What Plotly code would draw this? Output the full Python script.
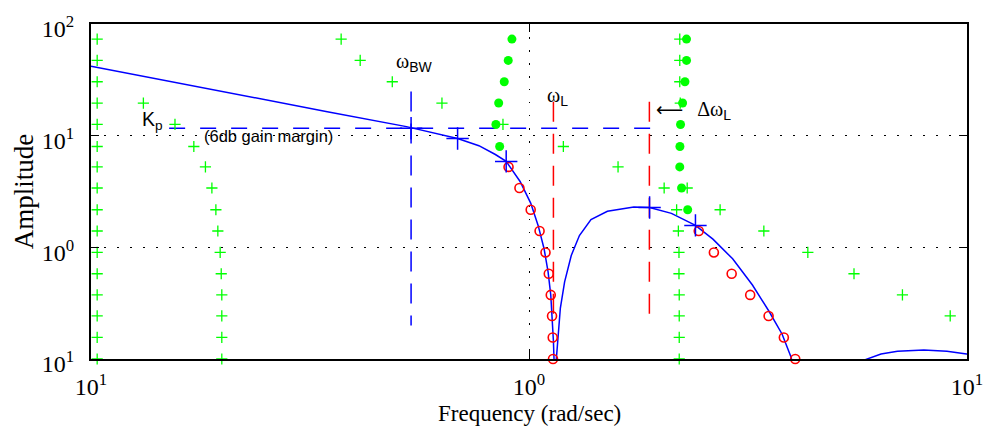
import plotly.graph_objects as go

# ---------------- data ----------------
# blue magnitude curve (rad/sec, amplitude)
curve_w = [0.1, 0.2286, 0.3463, 0.525, 0.5925, 0.687, 0.7684, 0.838, 0.887, 0.9543,
           1.0089, 1.0495, 1.0828, 1.1055, 1.1212, 1.1310, 1.1369, 1.1405, 1.1478,
           1.1547, 1.1645, 1.1792, 1.2059, 1.2488, 1.3035, 1.3851, 1.510, 1.735,
           1.885, 2.114, 2.399, 2.630, 2.917, 3.237, 3.531, 3.784, 3.966, 4.048]
curve_amp = [41.8, 22.3, 16.4, 12.05, 10.8, 9.44, 8.13, 6.78, 5.88, 3.89,
             2.49, 1.563, 0.966, 0.602, 0.3754, 0.2334, 0.1455, 0.1004, 0.03,
             0.1004, 0.1678, 0.286, 0.4914, 0.845, 1.276, 1.776, 2.105, 2.297,
             2.274, 2.014, 1.572, 1.183, 0.789, 0.46, 0.2676, 0.1667, 0.1037, 0.07]
hump_w = [5.59, 5.835, 6.363, 6.94, 7.97, 9.0, 9.98, 10.5]
hump_amp = [0.08, 0.098, 0.111, 0.1171, 0.1205, 0.1171, 0.111, 0.108]

# large blue "+" markers on the curve
bx_w = [0.538, 0.687, 0.887, 1.885, 2.399]
bx_amp = [11.64, 9.44, 5.88, 2.274, 1.572]

# red open circles
circ_a_w = [0.898, 0.951, 1.0089, 1.0572, 1.0906, 1.1096, 1.1212, 1.1287, 1.1328, 1.1346]
circ_a_amp = [5.25, 3.4, 2.17, 1.4, 0.9, 0.58, 0.375, 0.243, 0.156, 0.1]
circ_b_w = [2.441, 2.643, 2.902, 3.199, 3.524, 3.818, 4.054]
circ_b_amp = [1.4, 0.9, 0.58, 0.375, 0.243, 0.156, 0.1]

# green "+" markers
plus_a_w = [0.1033, 0.1033, 0.1033, 0.1033, 0.1033, 0.1033, 0.1033, 0.1033,
            0.1033, 0.1033, 0.1033, 0.1033, 0.1033, 0.1033, 0.1033, 0.1033]
plus_a_amp = [73.3, 47.2, 30.4, 19.6, 12.6, 8.0, 5.25, 3.4, 2.17, 1.4, 0.9, 0.58,
              0.375, 0.243, 0.156, 0.1]
plus_b_w = [0.1317, 0.1555, 0.1717, 0.1825, 0.1888, 0.1928, 0.1948, 0.1972, 0.1983,
            0.1989, 0.1989, 0.1989, 0.1989]
plus_b_amp = [19.6, 12.6, 8.0, 5.25, 3.4, 2.17, 1.4, 0.9, 0.58, 0.375, 0.243, 0.156, 0.1]
plus_c_w = [0.3725, 0.4117, 0.4874, 0.6328, 0.8721, 1.198, 1.597, 2.035, 2.731, 3.437,
            4.331, 5.521, 7.122, 9.155]
plus_c_amp = [73.3, 47.2, 30.4, 19.6, 12.6, 8.0, 5.25, 3.4, 2.17, 1.4, 0.9, 0.58,
              0.375, 0.243]
plus_d_w = [2.209, 2.209, 2.209, 2.215, 2.297, 2.173, 2.193, 2.200, 2.200, 2.203,
            2.203, 2.203, 2.203]
plus_d_amp = [73.3, 47.2, 30.4, 19.6, 3.4, 2.17, 1.4, 0.9, 0.58, 0.375, 0.243, 0.156, 0.1]

# green filled dots
dot_a_w = [0.9141, 0.8966, 0.878, 0.8526, 0.8403, 0.857]
dot_a_amp = [73.3, 47.2, 30.4, 19.6, 12.6, 8.0]
dot_b_w = [2.289, 2.289, 2.270, 2.242, 2.218, 2.211, 2.209, 2.23, 2.303]
dot_b_amp = [73.3, 47.2, 30.4, 19.6, 12.6, 8.0, 5.25, 3.4, 2.17]

# reference lines
kp_amp = 11.64
kp_w = [0.1508, 1.94]
w_bw = 0.538
bw_amp = [24.8, 0.2]
w_l = 1.137
w_l2 = 1.883
red_amp = [20.1, 0.2]

# axis ticks
x_tickvals = [0.1, 1, 10]
x_ticktext = ["10<sup>1</sup>", "10<sup>0</sup>", "10<sup>1</sup>"]
y_tickvals = [0.1, 1, 10, 100]
y_ticktext = ["10<sup>1</sup>", "10<sup>0</sup>", "10<sup>1</sup>", "10<sup>2</sup>"]

title_text = "Learning Rate and Filter Bandwidth Chosen by the Magnitude"

# ---------------- figure ----------------
GREEN = "#00ff00"
BLUE = "#0000ff"
RED = "#ff0000"
SERIF = "Liberation Serif, Times New Roman, serif"
SANS = "Liberation Sans, Arial, sans-serif"

fig = go.Figure()

HDASH = "16px,15px"
VDASH = "20px,12px"

# dashed reference lines
fig.add_trace(go.Scatter(x=kp_w, y=[kp_amp, kp_amp], mode="lines",
                         line=dict(color=BLUE, width=1.5, dash=HDASH)))
fig.add_trace(go.Scatter(x=[w_bw, w_bw], y=bw_amp, mode="lines",
                         line=dict(color=BLUE, width=1.5, dash=VDASH)))
fig.add_trace(go.Scatter(x=[w_l, w_l], y=red_amp, mode="lines",
                         line=dict(color=RED, width=1.5, dash=VDASH)))
fig.add_trace(go.Scatter(x=[w_l2, w_l2], y=red_amp, mode="lines",
                         line=dict(color=RED, width=1.5, dash=VDASH)))

# blue curve
fig.add_trace(go.Scatter(x=curve_w, y=curve_amp, mode="lines",
                         line=dict(color=BLUE, width=1.5)))
fig.add_trace(go.Scatter(x=hump_w, y=hump_amp, mode="lines",
                         line=dict(color=BLUE, width=1.5)))

# markers
def plus(xs, ys):
    return go.Scatter(x=xs, y=ys, mode="markers", cliponaxis=False,
                      marker=dict(symbol="cross-thin", size=8, color=GREEN,
                                  line=dict(color=GREEN, width=1.3)))

for xs, ys in [(plus_a_w, plus_a_amp), (plus_b_w, plus_b_amp),
               (plus_c_w, plus_c_amp), (plus_d_w, plus_d_amp)]:
    fig.add_trace(plus(xs, ys))

for xs, ys in [(dot_a_w, dot_a_amp), (dot_b_w, dot_b_amp)]:
    fig.add_trace(go.Scatter(x=xs, y=ys, mode="markers", cliponaxis=False,
                             marker=dict(symbol="circle", size=9, color=GREEN)))

for xs, ys in [(circ_a_w, circ_a_amp), (circ_b_w, circ_b_amp)]:
    fig.add_trace(go.Scatter(x=xs, y=ys, mode="markers", cliponaxis=False,
                             marker=dict(symbol="circle-open", size=9, color=RED,
                                         line=dict(color=RED, width=1.6))))

fig.add_trace(go.Scatter(x=bx_w, y=bx_amp, mode="markers", cliponaxis=False,
                         marker=dict(symbol="cross-thin", size=16, color=BLUE,
                                     line=dict(color=BLUE, width=1.5))))

# ---------------- layout ----------------
L, R, T, B = 91, 18, 18, 76
W, H = 995, 435
PW, PH = W - L - R, H - T - B


def px(xp):
    return (xp - L) / PW


def py(yp):
    return (H - B - yp) / PH


axis_common = dict(
    type="log", showline=True, linecolor="black", linewidth=2, mirror="ticks",
    ticks="inside", ticklen=8, tickwidth=1.3, tickcolor="black",
    showgrid=True, gridcolor="black", gridwidth=1.2, griddash="1.5px,11.5px",
    zeroline=False, tickfont=dict(family=SERIF, size=24, color="black"),
    minor=dict(ticks="", showgrid=False),
)

fig.update_layout(
    width=W, height=H,
    margin=dict(l=L, r=R, t=T, b=B),
    paper_bgcolor="white", plot_bgcolor="white",
    showlegend=False,
    xaxis=dict(range=[-1, 1], tickvals=x_tickvals, ticktext=x_ticktext,
               ticklabelstandoff=5, **axis_common),
    yaxis=dict(range=[-1, 2], tickvals=y_tickvals, ticktext=y_ticktext,
               ticklabelstandoff=10, ticklabelshift=5, **axis_common),
)

sub_sans = '<sub><span style="font-family:Liberation Sans, Arial, sans-serif">{}</span></sub>'
arrow = '<span style="font-family:DejaVu Sans;font-size:19px">⟵</span>'

annotations = [
    dict(text=title_text, x=px(160), y=py(-5), xanchor="left", yanchor="bottom",
         font=dict(family=SERIF, size=20, color="black")),
    dict(text="K<sub>p</sub>", x=px(141), y=py(116), xanchor="left", yanchor="middle",
         font=dict(family=SANS, size=19.5, color="black")),
    dict(text="(6db gain margin)", x=px(203), y=py(132), xanchor="left", yanchor="middle",
         font=dict(family=SANS, size=16.5, color="black")),
    dict(text="ω" + sub_sans.format("BW"), x=px(397), y=py(57), xanchor="left",
         yanchor="middle", font=dict(family=SERIF, size=20, color="black")),
    dict(text="ω" + sub_sans.format("L"), x=px(550), y=py(92), xanchor="left",
         yanchor="middle", font=dict(family=SERIF, size=20, color="black")),
    dict(text=arrow + "   Δω" + sub_sans.format("L"), x=px(660), y=py(106), xanchor="left",
         yanchor="middle", font=dict(family=SERIF, size=20, color="black")),
    dict(text="Amplitude", x=px(23), y=py(188.5), xanchor="center", yanchor="middle",
         textangle=-90, font=dict(family=SERIF, size=27, color="black")),
    dict(text="Frequency (rad/sec)", x=px(534), y=py(414), xanchor="center",
         yanchor="middle", font=dict(family=SERIF, size=23, color="black")),
]
for a in annotations:
    a.update(xref="paper", yref="paper", showarrow=False)
fig.update_layout(annotations=annotations)

fig.write_html("out.html", config={"displayModeBar": False},
               post_script="document.body.style.margin='0';")
